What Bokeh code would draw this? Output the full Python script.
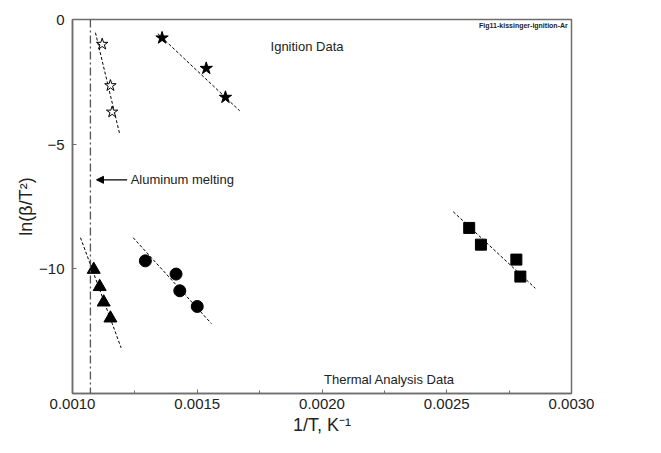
from bokeh.plotting import figure
from bokeh.models import Span, Label, Arrow, NormalHead, FixedTicker, PrintfTickFormatter
from bokeh.embed import file_html
from bokeh.resources import INLINE

# Data (1/T in K^-1, ln(beta/T^2))
open_star_x = [0.001119, 0.001152, 0.001159]
open_star_y = [-0.99, -2.65, -3.71]
open_star_fit_x = [0.001092, 0.001188]
open_star_fit_y = [-0.53, -4.55]

star_x = [0.001359, 0.001536, 0.001613]
star_y = [-0.74, -1.96, -3.12]
star_fit_x = [0.001342, 0.001670]
star_fit_y = [-0.57, -3.66]

tri_x = [0.001085, 0.001109, 0.001125, 0.001152]
tri_y = [-10.03, -10.72, -11.34, -11.98]
tri_fit_x = [0.001032, 0.001195]
tri_fit_y = [-8.75, -13.17]

circ_x = [0.001292, 0.001415, 0.001430, 0.001500]
circ_y = [-9.68, -10.21, -10.88, -11.51]
circ_fit_x = [0.001243, 0.001557]
circ_fit_y = [-8.75, -12.20]

sq_x = [0.002590, 0.002637, 0.002779, 0.002795]
sq_y = [-8.36, -9.03, -9.63, -10.31]
sq_fit_x = [0.002526, 0.002855]
sq_fit_y = [-7.71, -10.78]

al_melt_x = 1.0 / 933.0

x_ticks = [0.0010, 0.0015, 0.0020, 0.0025, 0.0030]
x_minor = [0.00125, 0.00175, 0.00225, 0.00275]
y_ticks = [0, -5, -10, -15]

FONT = "Liberation Sans"
GRAY = "#6e6e6e"

p = figure(width=645, height=437, x_range=(0.0010, 0.0030), y_range=(-15, 0),
           output_backend="svg", toolbar_location=None,
           min_border_left=72, min_border_right=74, min_border_top=19, min_border_bottom=41)
p.grid.visible = False
p.outline_line_color = GRAY
p.outline_line_width = 1.5
p.background_fill_color = "white"
p.border_fill_color = "white"

for ax in (p.xaxis[0], p.yaxis[0]):
    ax.axis_line_color = GRAY
    ax.axis_line_width = 1.5
    ax.major_tick_line_color = GRAY
    ax.minor_tick_line_color = GRAY
    ax.major_tick_in = 4
    ax.major_tick_out = 0
    ax.minor_tick_in = 3
    ax.minor_tick_out = 0
    ax.major_label_text_font = FONT
    ax.major_label_text_font_size = "15px"
    ax.major_label_text_color = "#222222"
    ax.axis_label_text_font = FONT
    ax.axis_label_text_font_size = "18px"
    ax.axis_label_text_font_style = "normal"
    ax.axis_label_text_color = "#222222"

p.xaxis.ticker = FixedTicker(ticks=x_ticks, minor_ticks=x_minor)
p.xaxis.formatter = PrintfTickFormatter(format="%.4f")
p.xaxis.axis_label = "1/T, K\u207b\u00b9"
p.xaxis.major_label_standoff = 5
p.xaxis.axis_label_standoff = 3

p.yaxis.ticker = FixedTicker(ticks=y_ticks, minor_ticks=[])
p.yaxis.major_label_overrides = {-15: " "}
p.yaxis.axis_label = "ln(\u03b2/T\u00b2)"
p.yaxis.major_label_standoff = 8
p.yaxis.axis_label_standoff = 0

p.add_layout(Label(x=0.0010, y=-15, text="-15", x_offset=-8, y_offset=8,
                   text_align="right", text_baseline="middle",
                   text_font=FONT, text_font_size="15px", text_color="#222222"))

# Aluminum melting line
p.add_layout(Span(location=al_melt_x, dimension="height", line_color="#555555",
                  line_width=1.3, line_dash="8 3 2 3"))
p.add_layout(Arrow(x_start=0.001219, y_start=-6.43, x_end=0.0010962, y_end=-6.43,
                   line_color="black", line_width=1.2,
                   end=NormalHead(size=7, fill_color="black", line_color="black")))
p.add_layout(Label(x=0.001233, y=-6.43, text="Aluminum melting", text_baseline="middle",
                   text_font=FONT, text_font_size="13px", text_color="#222222"))

# fits
for fx, fy in [(open_star_fit_x, open_star_fit_y), (star_fit_x, star_fit_y),
               (tri_fit_x, tri_fit_y), (circ_fit_x, circ_fit_y), (sq_fit_x, sq_fit_y)]:
    p.line(fx, fy, line_color="black", line_width=1, line_dash="3 2")

p.scatter(open_star_x, open_star_y, marker="star", size=12, fill_color="white",
          line_color="black", line_width=1)
p.scatter(star_x, star_y, marker="star", size=13, fill_color="black", line_color="black")
p.scatter(tri_x, tri_y, marker="triangle", size=13, fill_color="black", line_color="black")
p.scatter(circ_x, circ_y, marker="circle", size=12, fill_color="black", line_color="black")
p.scatter(sq_x, sq_y, marker="square", size=11, fill_color="black", line_color="black")

p.add_layout(Label(x=0.00194, y=-1.1, text="Ignition Data", text_align="center",
                   text_baseline="middle", text_font=FONT, text_font_size="13px",
                   text_color="#222222"))
p.add_layout(Label(x=0.00227, y=-14.45, text="Thermal Analysis Data", text_align="center",
                   text_baseline="middle", text_font=FONT, text_font_size="13px",
                   text_color="#222222"))
p.add_layout(Label(x=0.002985, y=0.0, text="Fig11-kissinger-ignition-Ar", text_align="right",
                   text_baseline="top", text_font=FONT, text_font_size="7px",
                   text_font_style="bold", text_color="#222222", y_offset=-2))

open("out.html", "w").write(file_html(p, INLINE))
